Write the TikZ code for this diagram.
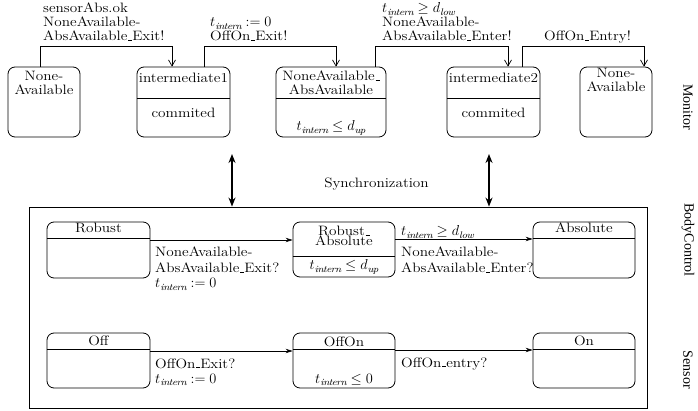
\documentclass[tikz,border=0pt]{standalone}
\usepackage{fontspec}
\setmainfont{Latin Modern Roman}[FakeStretch=1.12]
\newfontfamily\sidefont{Liberation Serif}
\usetikzlibrary{arrows.meta,calc}
\newcommand{\tin}{t_{\mathit{intern}}}
% short low underscore, as in classic TeX fonts
\newcommand{\us}{\leavevmode\kern.06em\rule[-0.3pt]{.3em}{0.9pt}}

\begin{document}
\begin{tikzpicture}[x=1pt,y=1pt,
  every node/.style={inner sep=0pt, font=\fontsize{13.6}{14}\selectfont},
  statebox/.style={draw, line width=0.8pt, rounded corners=7pt},
  divider/.style={line width=0.8pt},
  txt/.style={anchor=base, align=center},
  lbl/.style={anchor=base west, align=left},
  toparrow/.style={line width=0.7pt, -{Straight Barb[length=6pt,width=7pt]}},
  transarrow/.style={line width=0.7pt, -{Stealth[length=7pt,width=4.5pt]}},
  syncarrow/.style={line width=1.8pt, {Stealth[length=9pt,width=7pt]}-{Stealth[length=9pt,width=7pt]}},
  side/.style={font=\sidefont\fontsize{14}{16}\selectfont, rotate=-90}
]
\useasboundingbox (0,0) rectangle (698,-411);

% ---------------- Monitor automaton ----------------
\node[statebox, minimum width=72pt, minimum height=70pt] (na1) at (44,-102) {};
\node[statebox, minimum width=93pt, minimum height=70pt] (im1) at (183.5,-102) {};
\node[statebox, minimum width=110pt, minimum height=70pt] (naa) at (331,-102) {};
\node[statebox, minimum width=93pt, minimum height=70pt] (im2) at (493.5,-102) {};
\node[statebox, minimum width=72pt, minimum height=70pt] (na2) at (616,-102) {};

\draw[divider] ([yshift=-32pt]im1.north west) -- ([yshift=-32pt]im1.north east);
\draw[divider] ([yshift=-32pt]naa.north west) -- ([yshift=-32pt]naa.north east);
\draw[divider] ([yshift=-32pt]im2.north west) -- ([yshift=-32pt]im2.north east);

% multi-line nodes sit on the baseline of their last line
\node[txt] (na1t) at (44,-95) {None-\\Available};
\node[txt] (im1t) at (183.5,-83) {intermediate1};
\node[txt] (im1c) at (183.5,-118) {commited};
\node[txt] (naat) at (331,-95) {NoneAvailable\us\\AbsAvailable};
\node[txt] (naai) at (331,-131) {$\tin \le d_{\mathit{up}}$};
\node[txt] (im2t) at (493.5,-83) {intermediate2};
\node[txt] (im2c) at (493.5,-118) {commited};
\node[txt] (na2t) at (616,-92) {None-\\Available};

% transitions of the monitor
\draw[toparrow] ($(na1.north)+(-4,0)$) |- ($(im1.north)+(-11.5,20)$) -- ($(im1.north)+(-11.5,0)$);
\draw[toparrow] ($(im1.north)+(20.5,0)$) |- ($(naa.north)+(5,20)$) -- ($(naa.north)+(5,0)$);
\draw[toparrow] ($(naa.north)+(44,0)$) |- ($(im2.north)+(14.5,20)$) -- ($(im2.north)+(14.5,0)$);
\draw[toparrow] ($(im2.north)+(28.5,0)$) |- ($(na2.north)+(28,20)$) -- ($(na2.north)+(28,0)$);

\node[lbl] (l1) at (43,-41) {sensorAbs.ok\\NoneAvailable-\\AbsAvailable\us Exit!};
\node[lbl] (l2) at (210,-41) {$\tin := 0$\\OffOn\us Exit!};
\node[lbl] (l3) at (382,-41) {$\tin \ge d_{\mathit{low}}$\\NoneAvailable-\\AbsAvailable\us Enter!};
\node[lbl] (l4) at (544,-41) {OffOn\us Entry!};

% ---------------- synchronisation ----------------
\node[draw, line width=0.8pt, minimum width=618pt, minimum height=201pt] (sys) at (338,-307.5) {};
\coordinate (s1) at (232,-154);
\coordinate (s2) at (489,-154);
\draw[syncarrow] (s1) -- (s1 |- sys.north);
\draw[syncarrow] (s2) -- (s2 |- sys.north);
\node[anchor=base] (sync) at (376.5,-188) {Synchronization};

% ---------------- BodyControl automaton ----------------
\node[statebox, minimum width=103pt, minimum height=56pt] (rob) at (98.5,-250) {};
\node[statebox, minimum width=102pt, minimum height=55pt] (ra) at (344,-249.5) {};
\node[statebox, minimum width=102pt, minimum height=56pt] (abs) at (584,-250) {};

\draw[divider] ([yshift=-17pt]rob.north west) -- ([yshift=-17pt]rob.north east);
\draw[divider] ([yshift=-35pt]ra.north west) -- ([yshift=-35pt]ra.north east);
\draw[divider] ([yshift=-17pt]abs.north west) -- ([yshift=-17pt]abs.north east);

\node[txt] (robt) at (98.5,-233) {Robust};
\node[txt, font=\fontsize{13.6}{10.5}\selectfont] (rat) at (344,-246) {Robust\us\\Absolute};
\node[txt] (rai) at (344,-270) {$\tin \le d_{\mathit{up}}$};
\node[txt] (abst) at (584,-233) {Absolute};

\draw[transarrow] ([yshift=10pt]rob.east) -- ([yshift=9.5pt]ra.west);
\draw[transarrow] ([yshift=10.5pt]ra.east) -- ([yshift=11pt]abs.west);

\node[lbl, font=\fontsize{13.6}{15.5}\selectfont] (b1) at (155,-288) {NoneAvailable-\\AbsAvailable\us Exit?\\$\tin := 0$};
\node[lbl] (b2) at (401,-236) {$\tin \ge d_{\mathit{low}}$};
\node[lbl, font=\fontsize{13.6}{16}\selectfont] (b3) at (401,-273) {NoneAvailable-\\AbsAvailable\us Enter?};

% ---------------- Sensor automaton ----------------
\node[statebox, minimum width=103pt, minimum height=55pt] (off) at (98.5,-360.5) {};
\node[statebox, minimum width=102pt, minimum height=55pt] (offon) at (344,-360.5) {};
\node[statebox, minimum width=102pt, minimum height=55pt] (on) at (584,-360.5) {};

\draw[divider] ([yshift=-17pt]off.north west) -- ([yshift=-17pt]off.north east);
\draw[divider] ([yshift=-17pt]offon.north west) -- ([yshift=-17pt]offon.north east);
\draw[divider] ([yshift=-17pt]on.north west) -- ([yshift=-17pt]on.north east);

\node[txt] (offt) at (98.5,-345) {Off};
\node[txt] (offont) at (344,-346) {OffOn};
\node[txt] (offoni) at (344,-383) {$\tin \le 0$};
\node[txt] (ont) at (584,-345) {On};

\draw[transarrow] ([yshift=9.5pt]off.east) -- ([yshift=9.5pt]offon.west);
\draw[transarrow] ([yshift=10.5pt]offon.east) -- ([yshift=10.5pt]on.west);

\node[lbl, font=\fontsize{13.6}{15}\selectfont] (b4) at (155,-383) {OffOn\us Exit?\\$\tin := 0$};
\node[lbl] (b5) at (401,-367) {OffOn\us entry?};

% ---------------- component names ----------------
\node[side] (mon) at (688,-107) {Monitor};
\node[side] (bc) at (688,-240) {BodyControl};
\node[side] (sen) at (688,-370) {Sensor};
\end{tikzpicture}
\end{document}
